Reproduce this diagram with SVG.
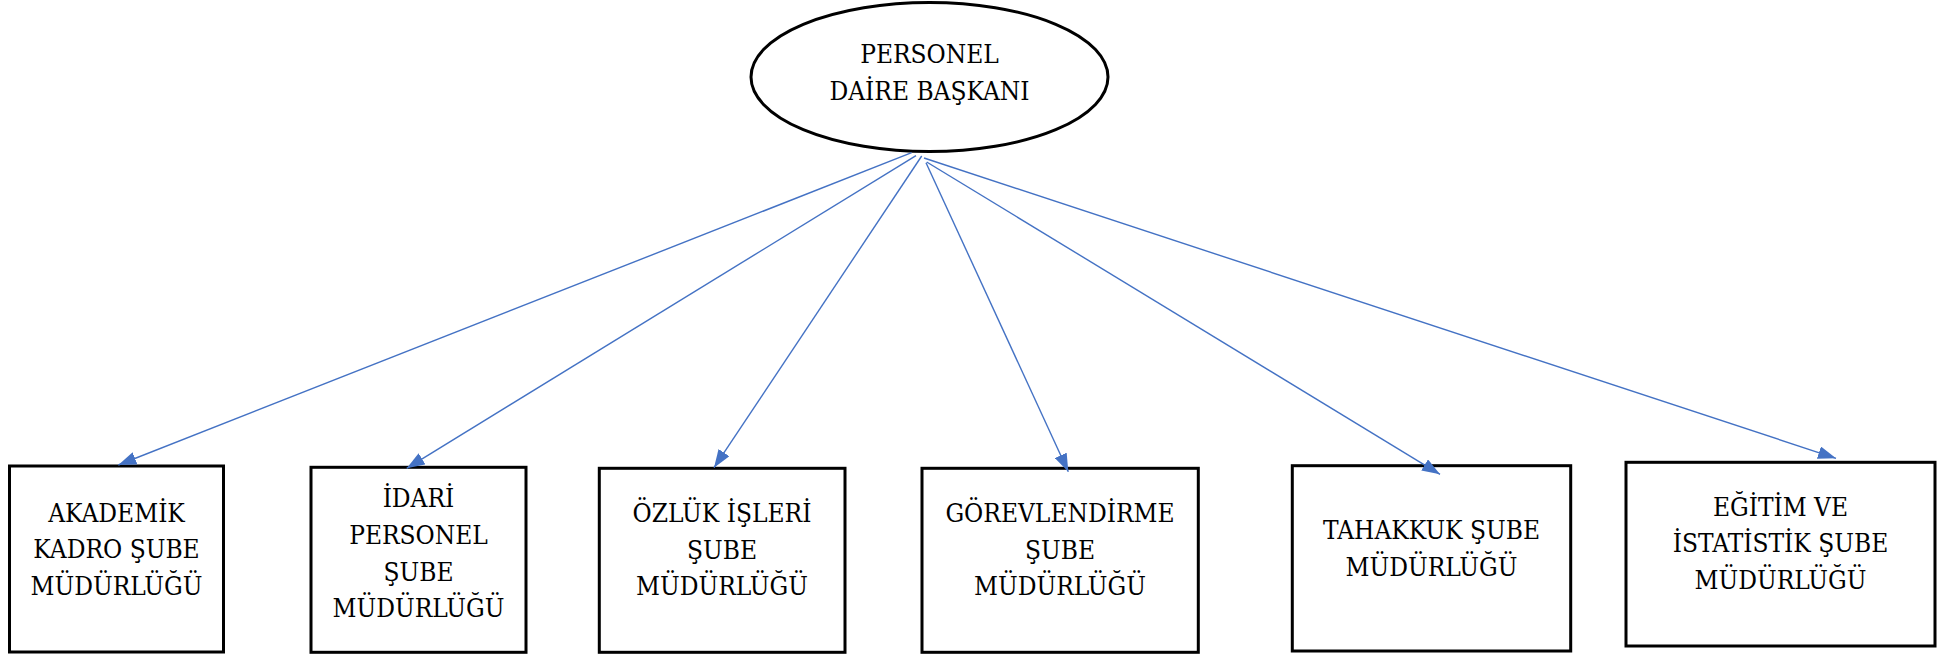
<svg xmlns="http://www.w3.org/2000/svg" width="1937" height="654" viewBox="0 0 1937 654">
<style>
  .node { fill: #ffffff; stroke: #000000; stroke-width: 3; }
  .lbl { font-family: "DejaVu Serif Condensed", "Liberation Serif", serif; font-size: 26px; fill: #000000; text-anchor: middle; }
  .conn { stroke: #4472C4; stroke-width: 1.4; fill: none; marker-end: url(#arrow); }
</style>
<defs>
  <marker id="arrow" markerUnits="userSpaceOnUse" viewBox="0 0 18 13" markerWidth="18" markerHeight="13" refX="18" refY="6.5" orient="auto">
    <path d="M0,0 L18,6.5 L0,13 z" fill="#4472C4"/>
  </marker>
</defs>
<rect width="1937" height="654" fill="#ffffff"/>
<g id="root">
  <ellipse class="node" cx="929.5" cy="77" rx="178.5" ry="74.5" stroke-width="2.6"/>
  <text class="lbl" x="929.5" y="63">PERSONEL</text>
  <text class="lbl" x="929.5" y="100">DAİRE BAŞKANI</text>
</g>
<g id="akademik">
  <rect class="node" x="9.5" y="466" width="214" height="186"/>
  <text class="lbl" x="116.5" y="521.7">AKADEMİK</text>
  <text class="lbl" x="116.5" y="558.3">KADRO ŞUBE</text>
  <text class="lbl" x="116.5" y="595">MÜDÜRLÜĞÜ</text>
</g>
<g id="idari">
  <rect class="node" x="311" y="467.3" width="215" height="185"/>
  <text class="lbl" x="418.5" y="506.7">İDARİ</text>
  <text class="lbl" x="418.5" y="543.7">PERSONEL</text>
  <text class="lbl" x="418.5" y="580.5">ŞUBE</text>
  <text class="lbl" x="418.5" y="616.7">MÜDÜRLÜĞÜ</text>
</g>
<g id="ozluk">
  <rect class="node" x="599.3" y="468.3" width="245.7" height="184"/>
  <text class="lbl" x="722" y="521.7">ÖZLÜK İŞLERİ</text>
  <text class="lbl" x="722" y="559">ŞUBE</text>
  <text class="lbl" x="722" y="595">MÜDÜRLÜĞÜ</text>
</g>
<g id="gorevlendirme">
  <rect class="node" x="922" y="468.3" width="276.3" height="184"/>
  <text class="lbl" x="1060" y="521.7">GÖREVLENDİRME</text>
  <text class="lbl" x="1060" y="559">ŞUBE</text>
  <text class="lbl" x="1060" y="595">MÜDÜRLÜĞÜ</text>
</g>
<g id="tahakkuk">
  <rect class="node" x="1292.3" y="465.7" width="278.4" height="185.3"/>
  <text class="lbl" x="1431.5" y="539.3">TAHAKKUK ŞUBE</text>
  <text class="lbl" x="1431.5" y="576">MÜDÜRLÜĞÜ</text>
</g>
<g id="egitim">
  <rect class="node" x="1626" y="462.3" width="309" height="183.7"/>
  <text class="lbl" x="1780.5" y="516">EĞİTİM VE</text>
  <text class="lbl" x="1780.5" y="552.3">İSTATİSTİK ŞUBE</text>
  <text class="lbl" x="1780.5" y="589">MÜDÜRLÜĞÜ</text>
</g>
<g id="connectors">
  <line class="conn" x1="911.7" y1="152.7" x2="118.3" y2="465"/>
  <line class="conn" x1="916" y1="155.7" x2="406.7" y2="468.3"/>
  <line class="conn" x1="921.7" y1="156" x2="714" y2="467.7"/>
  <line class="conn" x1="926" y1="162.7" x2="1068.3" y2="471.7"/>
  <line class="conn" x1="926.7" y1="162" x2="1440" y2="474.3"/>
  <line class="conn" x1="924" y1="158" x2="1836" y2="458.3"/>
</g>
</svg>
